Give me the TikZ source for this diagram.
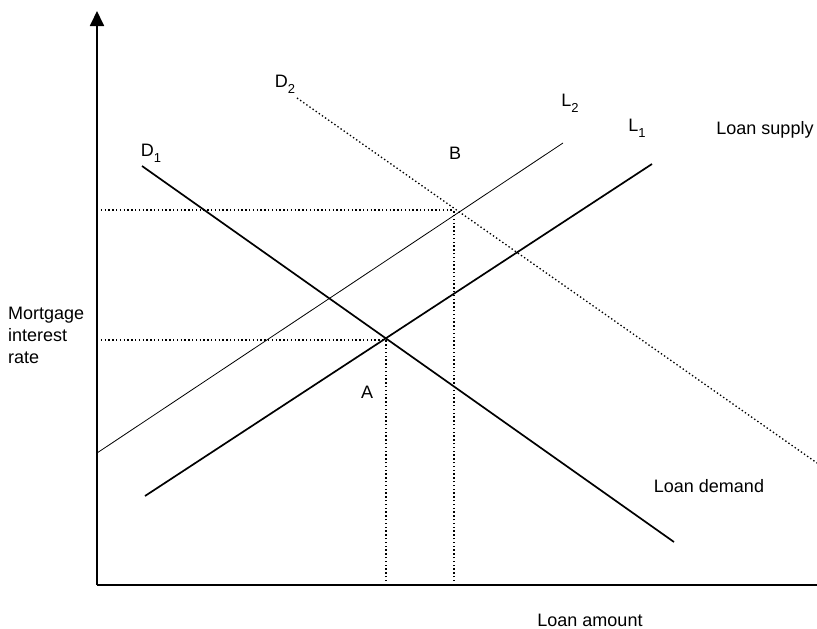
\documentclass[tikz,border=0pt]{standalone}
\usepackage{fontspec}
\setmainfont{Liberation Sans}
\usetikzlibrary{arrows.meta, positioning, calc}
\newcommand{\lsub}[1]{\raisebox{-0.6ex}{\fontsize{13}{14}\selectfont #1}}

\begin{document}
\begin{tikzpicture}[x=1pt, y=-1pt, >={Triangle[width=14pt,length=15pt]},
  lbl/.style={inner sep=0pt, font=\fontsize{18}{22}\selectfont},
  curve/.style={line width=1.7pt},
  thin curve/.style={line width=0.8pt},
  guide/.style={line width=1.3pt, dash pattern=on 1.4pt off 2.4pt}]
  \useasboundingbox (0,0) rectangle (817,629);
  % axes
  \coordinate (origin) at (97,585);
  \coordinate (ytop) at (97,11);
  \coordinate (xend) at (817,585);
  \draw[line width=1.8pt, ->] (origin) -- (ytop);
  \draw[line width=1.8pt] (origin) -- (xend);
  % curves
  \coordinate (d1s) at (142,166);
  \coordinate (d1e) at (674,542);
  \coordinate (d2s) at (297,98);
  \coordinate (d2e) at (817,463);
  \coordinate (l1s) at (145,496);
  \coordinate (l1e) at (652,164);
  \coordinate (l2s) at (97,453);
  \coordinate (l2e) at (563,143);
  \draw[curve] (d1s) -- (d1e);
  \draw[curve] (l1s) -- (l1e);
  \draw[thin curve] (l2s) -- (l2e);
  \draw[guide] (d2s) -- (d2e);
  % equilibria
  \coordinate (ptA) at (386,340);
  \coordinate (ptB) at (454,210);
  \draw[guide] (ptA |- origin) -- (ptA);
  \draw[guide] (origin |- ptA) -- (ptA);
  \draw[guide] (ptB |- origin) -- (ptB);
  \draw[guide] (origin |- ptB) -- (ptB);
  % labels
  \node[lbl] (labD1) at (151,153) {D\lsub{1}};
  \node[lbl] (labD2) at (285,84) {D\lsub{2}};
  \node[lbl] (labL2) at (570,103) {L\lsub{2}};
  \node[lbl] (labL1) at (637,128) {L\lsub{1}};
  \node[lbl] (labA) at (367,392) {A};
  \node[lbl] (labB) at (455,153) {B};
  \node[lbl] (supply) at (765,130) {Loan supply};
  \node[lbl] (demand) at (709,486) {Loan demand};
  \node[lbl] (xlab) at (590,620) {Loan amount};
  \node[lbl, anchor=west, align=left] (ylab) at (8,335) {Mortgage\\interest\\rate};
\end{tikzpicture}
\end{document}
